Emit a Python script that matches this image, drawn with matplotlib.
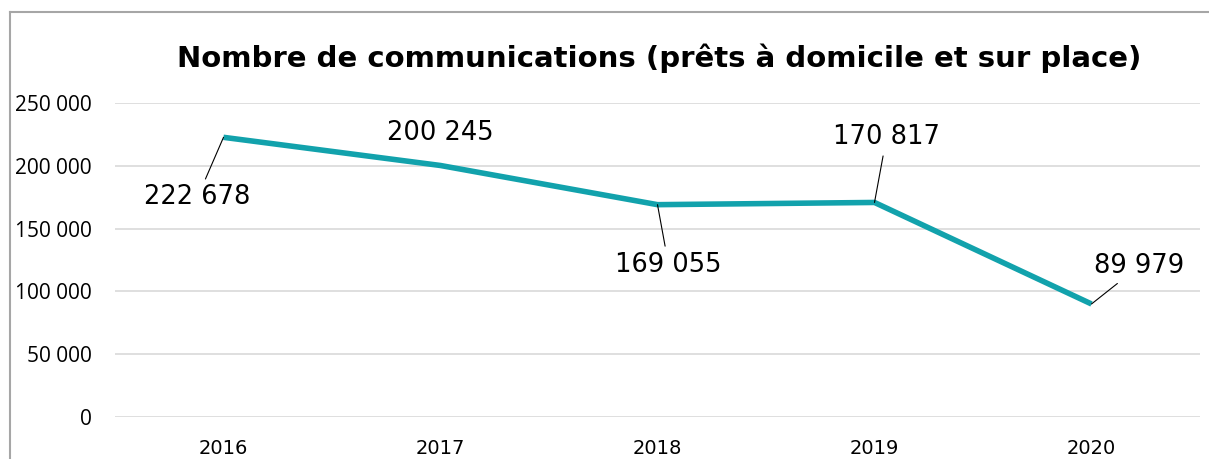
import matplotlib
matplotlib.use("Agg")
import matplotlib.pyplot as plt
from matplotlib.lines import Line2D

years = ["2016", "2017", "2018", "2019", "2020"]
values = [222678, 200245, 169055, 170817, 89979]
y_ticks = [0, 50000, 100000, 150000, 200000, 250000]
title = "Nombre de communications (prêts à domicile et sur place)"

def fmt(v):
    return f"{v:,}".replace(",", " ")

W, H = 1209, 459
fig = plt.figure(figsize=(W / 100, H / 100), dpi=100)
ax = fig.add_axes([115 / W, 42 / H, (1200 - 115) / W, (417 - 103) / H])

x = list(range(len(years)))
ax.plot(x, values, color="#12A2AC", lw=4.0, solid_capstyle="butt", solid_joinstyle="miter", zorder=3)
ax.set_xlim(-0.5, len(years) - 0.5)
ax.set_ylim(0, 250000)
ax.set_yticks(y_ticks)
ax.set_yticklabels([fmt(v) for v in y_ticks], fontsize=15, family="Open Sans")
ax.set_xticks(x)
ax.set_xticklabels(years, fontsize=14, family="DejaVu Sans")
ax.grid(axis="y", color="#D9D9D9", lw=1.2)
ax.set_axisbelow(True)
for s in ax.spines.values():
    s.set_visible(False)
ax.tick_params(length=0)
ax.tick_params(axis="y", pad=17)
ax.tick_params(axis="x", pad=16)

# data labels: offsets in pixels (dx, dy) of text centre from the point; leader line flag
label_offsets = [(-26, -60, True), (0, 32, False), (11, -60, True), (12, 65, True), (48, 38, True)]
for xi, v, (dx, dy, lead) in zip(x, values, label_offsets):
    ax.annotate(fmt(v), xy=(xi, v), xytext=(dx * 0.72, dy * 0.72), textcoords="offset points",
                ha="center", va="center", fontsize=18.5, family="DejaVu Sans", color="black",
                arrowprops=dict(arrowstyle="-", color="black", lw=0.8, shrinkA=2, shrinkB=0) if lead else None,
                zorder=4)

fig.text(659 / W, 1 - 58 / H, title, ha="center", va="center", fontsize=21,
         fontweight="bold", family="DejaVu Sans")

# chart frame
fig.add_artist(Line2D([10 / W, 10 / W], [0, 1 - 12 / H], transform=fig.transFigure, color="#A6A6A6", lw=1.5))
fig.add_artist(Line2D([10 / W, 1], [1 - 12 / H, 1 - 12 / H], transform=fig.transFigure, color="#A6A6A6", lw=1.5))

fig.savefig("out.png", dpi=100)
